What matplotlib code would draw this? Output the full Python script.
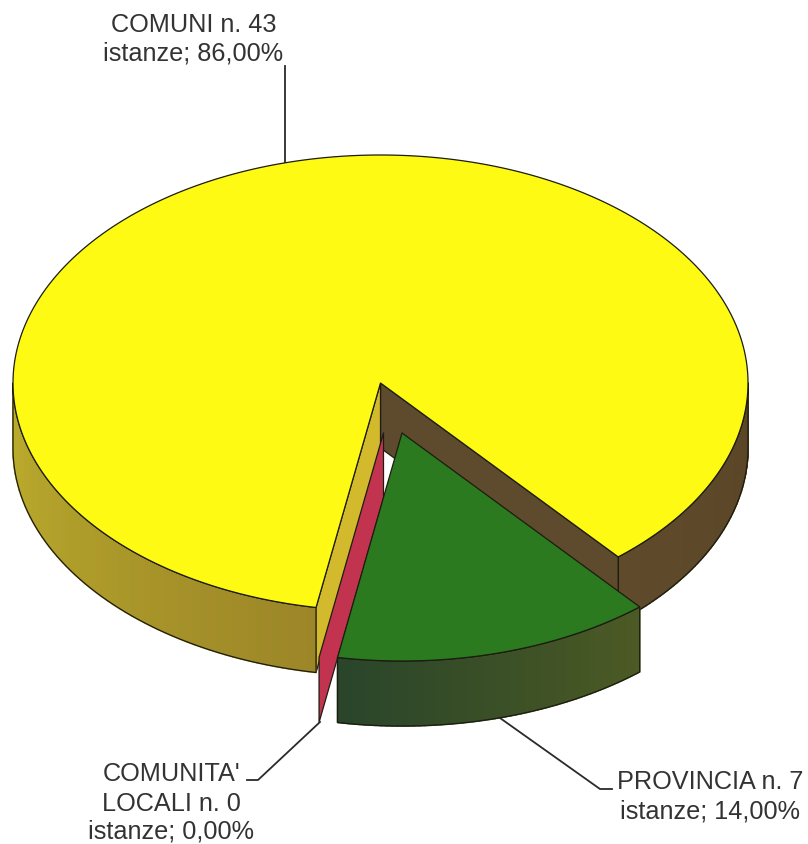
import numpy as np
import matplotlib
matplotlib.use("Agg")
import matplotlib.pyplot as plt

# dati
categorie = ["COMUNI", "PROVINCIA", "COMUNITA'\nLOCALI"]
istanze = [43, 7, 0]
percentuali = [86.00, 14.00, 0.00]

plt.rcParams["font.family"] = ["Liberation Sans", "DejaVu Sans"]

CX, CY, RX, RY = 380.5, 383, 367.5, 228
DEPTH = 65
START = -49.7
OFF_PROV = (21.5, 50)
OFF_COM = (3, 50)
EDGE = "#1c1c10"
LW = 0.9


def punto(a, off=(0, 0), down=0):
    a = np.radians(a)
    return CX + off[0] + RX * np.cos(a), CY + off[1] - RY * np.sin(a) + down


def arco(a1, a2, off=(0, 0), down=0):
    t = np.linspace(a1, a2, max(int(abs(a2 - a1) * 2), 2))
    return [punto(x, off, down) for x in t]


def poligono(ax, pts, color, edge=EDGE, z=1, lw=LW):
    xs, ys = zip(*pts)
    ax.fill(xs, ys, facecolor=color, edgecolor=edge, linewidth=lw, zorder=z,
            joinstyle="round")


def fianco(ax, a1, a2, c1, c2, off=(0, 0), z=1):
    # fianco curvo a strisce con sfumatura
    c1, c2 = np.array(matplotlib.colors.to_rgb(c1)), np.array(matplotlib.colors.to_rgb(c2))
    angoli = np.linspace(a1, a2, 60)
    for i in range(len(angoli) - 1):
        f = i / (len(angoli) - 2)
        pts = arco(angoli[i], angoli[i + 1], off) + arco(angoli[i + 1], angoli[i], off, DEPTH)
        col = c1 + (c2 - c1) * f
        poligono(ax, pts, col, edge=col, z=z, lw=1.2)
    contorno = arco(a1, a2, off) + arco(a2, a1, off, DEPTH)
    xs, ys = zip(*contorno)
    ax.fill(xs, ys, facecolor="none", edgecolor=EDGE, linewidth=LW, zorder=z)


def parete(ax, a, color, off=(0, 0), z=1):
    c = (CX + off[0], CY + off[1])
    p = punto(a, off)
    poligono(ax, [c, p, (p[0], p[1] + DEPTH), (c[0], c[1] + DEPTH)], color, z=z)


def main():
    fig = plt.figure(figsize=(8.08, 8.44), dpi=100)
    ax = fig.add_axes([0, 0, 1, 1])
    ax.set_xlim(0, 808)
    ax.set_ylim(844, 0)
    ax.axis("off")

    tot = sum(istanze)
    fine_com = START + 360 * istanze[0] / tot
    fine_prov = fine_com + 360 * istanze[1] / tot

    # spicchio giallo
    fianco(ax, START, 0, "#5f4b2b", "#5a4626", z=1)
    parete(ax, START, "#5e4a2c", z=2)
    parete(ax, fine_com, "#d2ba2c", z=3)
    fianco(ax, 180, fine_com, "#bdae2c", "#9c8628", z=3)
    c = (CX, CY)
    poligono(ax, [c] + arco(START, fine_com) + [c], "#fefa14", z=4)

    # comunita' locali: valore zero, resta solo la parete
    parete(ax, fine_com, "#c2334f", off=OFF_COM, z=5)

    # provincia
    fianco(ax, fine_com, fine_prov, "#29452a", "#4c5a24", off=OFF_PROV, z=6)
    c = (CX + OFF_PROV[0], CY + OFF_PROV[1])
    poligono(ax, [c] + arco(fine_com, fine_prov, OFF_PROV) + [c], "#2b7a20", z=7)

    # linee di richiamo
    ax.plot([285, 285], [66, 163], color="#2a2a2a", lw=1.3, zorder=3)
    ax.plot([500, 600, 612], [718, 789, 789], color="#2a2a2a", lw=1.3, zorder=3)
    ax.plot([320, 258, 247], [722, 780, 780], color="#2a2a2a", lw=1.3, zorder=8)

    # etichette
    fs = 18.2
    tc = "#333333"
    pct = [f"istanze; {p:.2f}%".replace(".", ",") for p in percentuali]
    ax.text(194, 32.5, f"{categorie[0]} n. {istanze[0]}", ha="center", va="baseline", fontsize=fs, color=tc)
    ax.text(193, 61, pct[0], ha="center", va="baseline", fontsize=fs, color=tc)
    ax.text(710.5, 789, f"{categorie[1]} n. {istanze[1]}", ha="center", va="baseline", fontsize=fs, color=tc)
    ax.text(710, 818, pct[1], ha="center", va="baseline", fontsize=fs, color=tc)
    prima, seconda = categorie[2].split("\n")
    ax.text(172, 781, prima, ha="center", va="baseline", fontsize=fs, color=tc)
    ax.text(171.5, 811, f"{seconda} n. {istanze[2]}", ha="center", va="baseline", fontsize=fs, color=tc)
    ax.text(170.5, 839, pct[2], ha="center", va="baseline", fontsize=fs, color=tc)

    fig.savefig("out.png", dpi=100, facecolor="white")


if __name__ == "__main__":
    main()
